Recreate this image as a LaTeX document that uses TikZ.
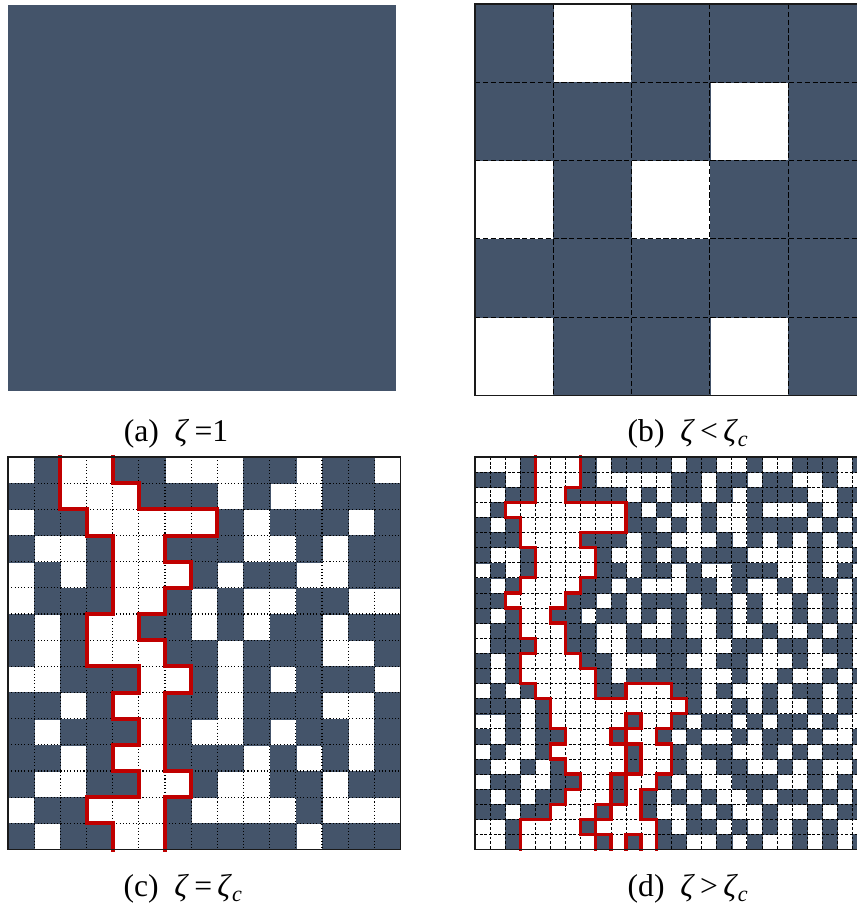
\documentclass[tikz,border=0pt]{standalone}
\usepackage{fontspec}
\setmainfont{Liberation Serif}
\definecolor{slate}{HTML}{44546A}
\definecolor{rimred}{HTML}{C00000}
\definecolor{edge}{HTML}{1A1A1A}
\tikzset{
  cellfill/.style={fill=slate, draw=slate, line width=0.2pt},
  frame/.style={draw=edge, line width=0.9pt},
  dashgrid/.style={draw=black, line width=0.9pt, dash pattern=on 4.5pt off 2.2pt},
  finegrid/.style={draw=black, line width=0.6pt, dash pattern=on 2.4pt off 1.6pt},
  dotgrid/.style={draw=black, line width=1pt, dash pattern=on 0.9pt off 1.9pt},
  rim/.style={draw=rimred, line width=2.8pt, line cap=rect},
  caption/.style={font=\fontsize{27}{31}\selectfont, inner sep=0pt}
}
% cells: 0 dark, 1 white, 2 white and in the spanning cluster
\newcommand{\latticecells}[5]{%
  \foreach \cells [count=\i from 0] in {#5} {
    \foreach \v [count=\j from 0] in \cells {
      \expandafter\xdef\csname #1@\i @\j\endcsname{\v}
      \ifnum\v=0
        \fill[cellfill] ({#2+\j*#4},{#3+\i*#4}) rectangle ++(#4,#4);
      \fi
    }
  }
}
\newcommand{\rimside}[4]{%
  \ifcsname #1@#2@#3\endcsname
    \ifnum\csname #1@#2@#3\endcsname<2 \draw[rim] #4;\fi
  \fi}
\newcommand{\latticerim}[5]{%
  \foreach \i in {0,...,#5} {
    \foreach \j in {0,...,#5} {
      \ifnum\csname #1@\i @\j\endcsname=2
        \pgfmathtruncatemacro\iu{\i-1}
        \pgfmathtruncatemacro\id{\i+1}
        \pgfmathtruncatemacro\jl{\j-1}
        \pgfmathtruncatemacro\jr{\j+1}
        \rimside{#1}{\iu}{\j}{({#2+\j*#4},{#3+\i*#4}) -- ++(#4,0)}
        \rimside{#1}{\id}{\j}{({#2+\j*#4},{#3+\id*#4}) -- ++(#4,0)}
        \rimside{#1}{\i}{\jl}{({#2+\j*#4},{#3+\i*#4}) -- ++(0,#4)}
        \rimside{#1}{\i}{\jr}{({#2+\jr*#4},{#3+\i*#4}) -- ++(0,#4)}
      \fi
    }
  }
}
\begin{document}
\begin{tikzpicture}[x=0.03cm,y=-0.03cm]
  \useasboundingbox (0,0) rectangle (857,912);
  \clip (0,0) rectangle (857,912);

  % (a) one cell
  \fill[cellfill] (8,5) rectangle (395,390);

  % (b) 5x5
  \latticecells{b}{475}{4}{78.3}{{0,1,0,0,0},{0,0,0,1,0},{1,0,1,0,0},{0,0,0,0,0},{1,0,0,1,0}}
  \foreach \k in {1,...,4} {
    \draw[dashgrid] ({475+\k*78.3},4) -- ++(0,391.5);
    \draw[dashgrid] (475,{4+\k*78.3}) -- ++(391.5,0);
  }
  \draw[frame] (475,4) rectangle ++(391.5,391.5);

  % (c) 15x15
  \latticecells{c}{8}{457}{26.17}{
    {1,0,2,2,0,0,1,1,1,0,0,1,0,0,1},
    {0,0,2,2,2,0,0,0,1,0,1,1,0,0,0},
    {1,0,0,2,2,2,2,2,0,1,0,0,0,1,0},
    {0,1,1,0,2,2,0,0,0,1,1,0,1,0,0},
    {1,0,1,0,2,2,2,0,1,0,0,1,1,0,0},
    {1,0,0,0,2,2,0,1,0,1,1,0,0,1,1},
    {0,1,0,2,2,0,0,1,0,1,0,0,1,0,0},
    {0,1,0,2,2,2,0,0,1,0,0,0,1,1,0},
    {1,1,0,0,0,2,2,0,1,0,1,0,0,0,1},
    {0,0,1,0,2,2,0,0,1,0,0,0,1,1,0},
    {0,1,0,0,0,2,0,1,1,0,1,0,0,1,0},
    {0,0,1,0,2,2,0,0,0,1,0,1,0,1,0},
    {0,1,1,0,0,2,2,0,1,1,0,0,1,0,0},
    {1,0,0,2,2,2,0,1,1,1,1,0,1,1,1},
    {0,1,0,0,2,2,0,0,0,0,0,1,0,0,0}}
  \foreach \k in {1,...,14} {
    \draw[dotgrid] ({8+\k*26.17},457) -- ++(0,392.55);
    \draw[dotgrid] (8,{457+\k*26.17}) -- ++(392.55,0);
  }
  \begin{scope}[rim/.append style={line width=3.4pt}]
    \latticerim{c}{8}{457}{26.17}{14}
  \end{scope}
  \draw[frame] (8,457) rectangle ++(392.55,392.55);

  % (d) 26x26
  \latticecells{d}{475}{457}{15.1}{
    {1,1,1,0,2,2,2,0,1,0,0,0,0,1,0,0,1,1,0,1,1,0,0,0,1,0},
    {0,0,1,0,2,2,2,0,1,1,1,1,1,0,0,1,0,0,1,0,0,1,1,0,1,1},
    {1,1,0,0,2,2,0,0,0,0,1,0,1,0,0,1,0,1,0,0,0,0,1,1,0,0},
    {1,0,2,2,2,2,2,2,2,2,0,1,0,1,1,0,1,1,0,1,1,1,0,1,0,1},
    {0,1,0,2,2,2,2,2,2,2,0,0,1,0,1,0,1,1,0,0,0,0,1,0,1,0},
    {0,0,0,2,2,2,2,0,0,0,1,0,0,1,1,1,0,1,0,1,0,1,0,1,0,1},
    {0,1,1,0,2,2,2,2,0,1,1,0,1,0,1,0,0,0,1,1,1,1,0,1,1,0},
    {1,0,1,0,2,2,2,2,0,0,1,0,0,1,0,1,1,0,0,0,1,1,0,1,0,1},
    {0,1,0,2,2,2,2,0,0,1,0,1,1,1,0,0,1,0,1,1,0,1,0,0,1,0},
    {0,0,2,2,2,2,0,0,1,0,1,0,0,0,1,0,0,1,0,1,1,0,1,0,1,0},
    {0,1,0,2,2,0,0,1,0,0,1,0,1,0,1,1,0,1,0,1,1,0,1,0,1,0},
    {1,0,0,2,2,2,0,0,1,1,0,1,1,0,1,1,0,1,1,0,1,1,0,1,0,1},
    {1,0,0,0,2,2,0,0,1,1,0,0,0,0,0,1,1,0,0,1,0,0,1,0,0,1},
    {0,1,0,2,2,2,2,0,0,1,1,1,0,0,1,1,0,0,1,1,1,0,1,1,0,1},
    {0,1,0,2,2,2,2,2,0,1,0,0,0,0,0,1,1,0,1,1,0,1,1,0,1,0},
    {1,0,1,0,2,2,2,2,0,0,2,2,2,0,0,1,0,1,1,0,1,0,0,1,0,1},
    {0,0,0,1,0,2,2,2,2,2,2,2,2,2,0,1,1,0,1,0,1,1,0,1,0,1},
    {1,1,0,1,0,2,2,2,2,2,0,2,2,0,1,0,0,1,0,1,0,0,1,0,1,1},
    {0,1,0,1,0,0,2,2,2,0,2,2,0,1,0,1,1,0,1,0,0,1,0,1,1,0},
    {1,0,1,1,0,2,2,2,2,2,0,2,2,0,1,0,0,1,1,0,1,0,1,0,0,1},
    {0,1,1,0,1,0,2,2,2,2,0,2,2,0,1,1,0,0,1,1,0,1,0,1,1,0},
    {1,0,0,1,1,0,0,2,2,0,2,2,0,1,0,1,1,0,0,0,1,1,0,1,0,1},
    {0,1,0,1,0,0,2,2,2,0,2,0,1,0,1,0,1,1,0,1,0,0,1,0,1,0},
    {0,0,1,0,0,2,2,2,0,2,2,0,1,1,0,1,0,1,1,0,1,1,0,1,0,0},
    {1,1,0,2,2,2,2,0,2,2,2,2,0,1,0,0,1,0,1,0,1,0,1,0,1,1},
    {1,1,0,2,2,2,2,2,0,2,0,2,0,0,1,1,0,1,0,1,1,0,1,0,1,0}}
  \foreach \k in {1,...,25} {
    \draw[finegrid] ({475+\k*15.1},457) -- ++(0,392.6);
    \draw[finegrid] (475,{457+\k*15.1}) -- ++(392.6,0);
  }
  \latticerim{d}{475}{457}{15.1}{25}
  \draw[frame] (475,457) rectangle ++(392.6,392.6);

  % captions
  \node[caption] (capa) at (176,434) {(a)\ \ \textit{ζ}\,=1};
  \node[caption] (capb) at (688,434) {(b)\ \ \textit{ζ}\,<\,\textit{ζ}\textsubscript{\textit{c}}};
  \node[caption] (capc) at (183,889) {(c)\ \ \textit{ζ}\,=\,\textit{ζ}\textsubscript{\textit{c}}};
  \node[caption] (capd) at (688,889) {(d)\ \ \textit{ζ}\,>\,\textit{ζ}\textsubscript{\textit{c}}};
\end{tikzpicture}
\end{document}
